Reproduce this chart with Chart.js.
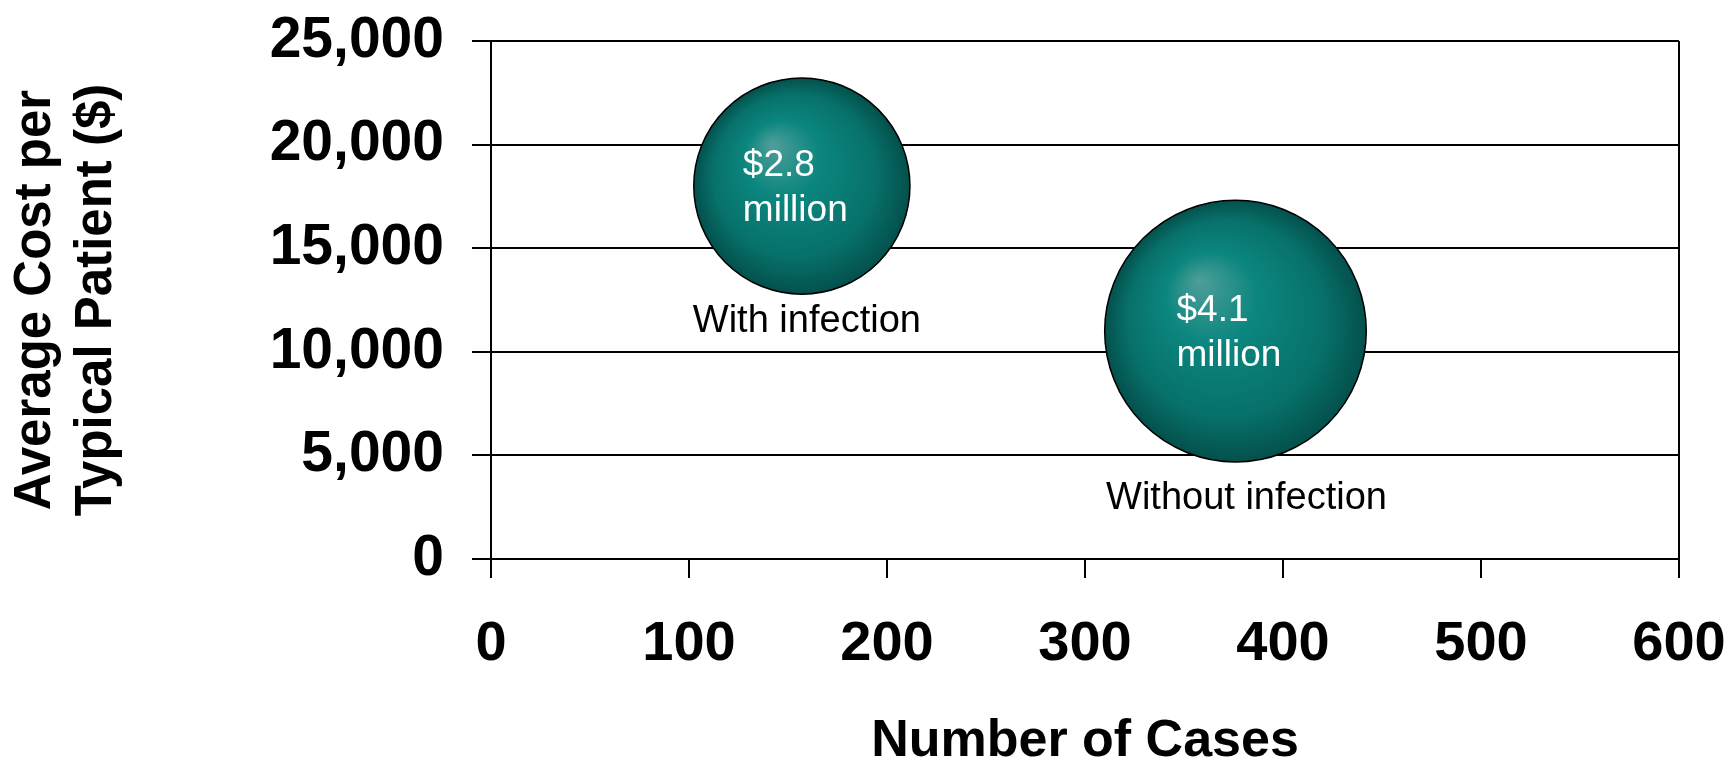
<!DOCTYPE html>
<html>
<head>
<meta charset="utf-8">
<script src="https://cdn.jsdelivr.net/npm/chart.js@4/dist/chart.umd.min.js"></script>
<style>
    body { margin: 0; background: #fff; }
    #wrap { width: 1730px; height: 762px; }
</style>
</head>
<body>
<div id="wrap"><canvas id="costChart" width="1730" height="762"></canvas></div>
<script>
// data
const groups = ['With infection', 'Without infection'];
const cases = [157, 376];               // number of cases
const avgCost = [18000, 11000];         // average cost per typical patient ($)
const totalCost = [2.8, 4.1];           // total cost, $ million
const totalLabels = ['$2.8', '$4.1'];
const xTicks = [0, 100, 200, 300, 400, 500, 600];
const yTicks = [0, 5000, 10000, 15000, 20000, 25000];

const FONT = "'Liberation Sans', Arial, Helvetica, sans-serif";
const RADIUS_PER_SQRT = 64.6; // bubble area follows total cost

function bubbleRadius(i) {
    return RADIUS_PER_SQRT * Math.sqrt(totalCost[i]);
}

function bubbleFill(context) {
    const teal = '#0a7f78';
    if (context.type !== 'data' || !context.raw) return teal;
    const chart = context.chart;
    const xs = chart.scales.x, ys = chart.scales.y;
    if (!xs || !ys) return teal;
    const cx = xs.getPixelForValue(context.raw.x);
    const cy = ys.getPixelForValue(context.raw.y);
    // scales are not laid out yet while the bubble overflow is measured
    if (!isFinite(cx) || !isFinite(cy)) return teal;
    const r = bubbleRadius(context.dataIndex);
    const g = chart.ctx.createRadialGradient(cx - 0.28 * r, cy - 0.39 * r, 0, cx, cy, r);
    g.addColorStop(0, '#4f9e9a');
    g.addColorStop(0.35, '#0b867e');
    g.addColorStop(0.75, '#07716a');
    g.addColorStop(1, '#04504c');
    return g;
}

// text inside and below each bubble
const bubbleText = {
    id: 'bubbleText',
    afterDatasetsDraw(chart, args, opts) {
        const ctx = chart.ctx;
        const meta = chart.getDatasetMeta(0);
        meta.data.forEach((el, i) => {
            const r = bubbleRadius(i);
            ctx.save();
            ctx.fillStyle = '#ffffff';
            ctx.font = '37px ' + FONT;
            ctx.textAlign = 'left';
            ctx.textBaseline = 'alphabetic';
            ctx.fillText(totalLabels[i], el.x - 59, el.y - 10);
            ctx.fillText('million', el.x - 59, el.y + 35);

            const off = opts.below[i];
            ctx.fillStyle = '#000000';
            ctx.font = '38px ' + FONT;
            ctx.textAlign = 'center';
            ctx.fillText(groups[i], el.x + off.dx, el.y + r + off.dy);
            ctx.restore();
        });
    }
};

const points = cases.map((c, i) => ({ x: c, y: avgCost[i] }));

new Chart(document.getElementById('costChart'), {
    type: 'bubble',
    data: {
        datasets: [{
            label: 'Cost',
            data: points,
            radius: ctx => bubbleRadius(ctx.dataIndex),
            backgroundColor: bubbleFill,
            borderColor: '#000000',
            borderWidth: 1.5,
            hoverRadius: 0
        }]
    },
    options: {
        responsive: false,
        animation: false,
        events: [],
        layout: {
            autoPadding: false,
            padding: { left: 0, top: 41, right: 51, bottom: 0 }
        },
        scales: {
            x: {
                type: 'linear',
                min: 0,
                max: 600,
                afterBuildTicks: scale => { scale.ticks = xTicks.map(v => ({ value: v })); },
                afterFit: scale => {
                    scale.height = 203;
                    scale.paddingLeft = 0;
                    scale.paddingRight = 0;
                },
                grid: {
                    color: c => (c.tick && c.tick.value === 600) ? '#000000' : 'rgba(0,0,0,0)',
                    tickColor: '#000000',
                    lineWidth: 2,
                    tickLength: 19
                },
                border: { color: '#000000', width: 2 },
                ticks: {
                    color: '#000000',
                    padding: 33,
                    maxRotation: 0,
                    autoSkip: false,
                    font: { family: FONT, size: 56, weight: 'bold', lineHeight: 1.2 },
                    callback: v => String(v)
                },
                title: {
                    display: true,
                    text: 'Number of Cases',
                    color: '#000000',
                    font: { family: FONT, size: 52, weight: 'bold', lineHeight: 1 },
                    padding: { top: 0, bottom: -6 }
                }
            },
            y: {
                type: 'linear',
                min: 0,
                max: 25000,
                afterBuildTicks: scale => { scale.ticks = yTicks.map(v => ({ value: v })); },
                afterFit: scale => {
                    scale.width = 491;
                    scale.paddingTop = 0;
                    scale.paddingBottom = 0;
                },
                grid: {
                    color: '#000000',
                    lineWidth: 2,
                    tickLength: 19
                },
                border: { color: '#000000', width: 2 },
                ticks: {
                    color: '#000000',
                    padding: 28,
                    autoSkip: false,
                    font: { family: FONT, size: 57, weight: 'bold', lineHeight: 1.2 },
                    callback: v => v.toLocaleString('en-US')
                },
                title: {
                    display: true,
                    text: ['Average Cost per', 'Typical Patient ($)'],
                    color: '#000000',
                    font: { family: FONT, size: 51, weight: 'bold', lineHeight: 1.2 },
                    padding: { top: 5, bottom: 0 }
                }
            }
        },
        plugins: {
            legend: { display: false },
            tooltip: { enabled: false },
            bubbleText: {
                below: [{ dx: 5, dy: 38 }, { dx: 11, dy: 47 }]
            }
        }
    },
    plugins: [bubbleText]
});
</script>
</body>
</html>
